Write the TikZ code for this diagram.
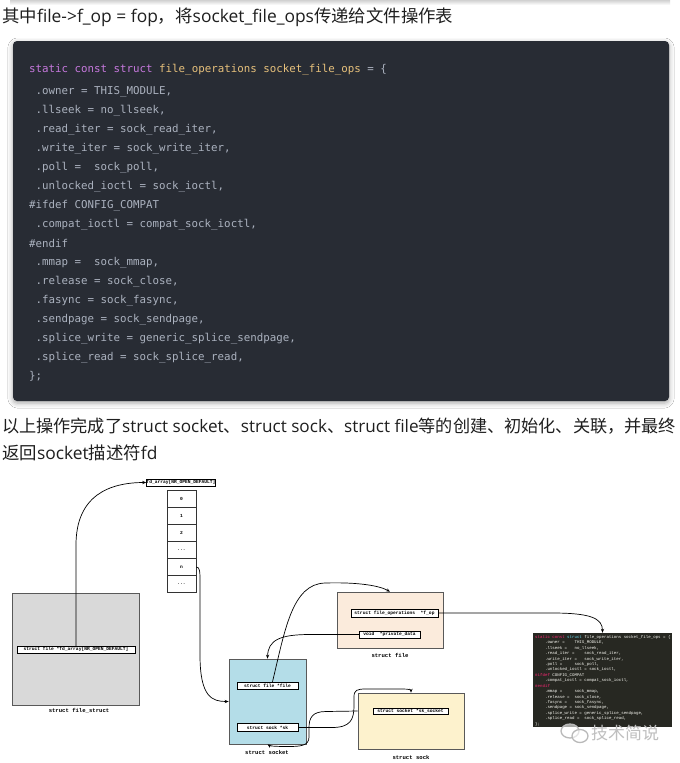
\documentclass[tikz,border=0pt]{standalone}
\usepackage{fontspec}
\newfontfamily\cjk{Noto Sans CJK SC}
\newfontfamily\latf{Open Sans}
\newfontfamily\codefont{DejaVu Sans Mono}
\newfontfamily\diagfont{Liberation Mono}
\usetikzlibrary{arrows.meta,shadows.blur,calc}
\definecolor{codebg}{HTML}{282C34}
\definecolor{codefg}{HTML}{ABB2BF}
\definecolor{kw}{HTML}{C678DD}
\definecolor{ty}{HTML}{E6C07B}
\definecolor{mbg}{HTML}{272822}
\definecolor{mfg}{HTML}{F8F8F2}
\definecolor{mred}{HTML}{F92672}
\definecolor{mblue}{HTML}{66D9EF}
\definecolor{fsfill}{HTML}{D9D9D9}
\definecolor{skfill}{HTML}{B4DDE8}
\definecolor{flfill}{HTML}{FBEBDC}
\definecolor{sofill}{HTML}{FDF2CD}
\begin{document}
\begin{tikzpicture}[x=1pt,y=-1pt,
  para/.style={anchor=west, inner sep=0pt, font=\cjk\fontsize{17.4}{19}\selectfont, text=black!88},
  codeline/.style={anchor=west, inner sep=0pt, font=\codefont\fontsize{10.8}{12}\selectfont, text=codefg},
  bigbox/.style={draw=black!65, line width=0.6pt, inner sep=0pt},
  inbox/.style={draw=black, line width=0.5pt, fill=white, inner sep=0pt, font=\diagfont\bfseries\fontsize{4.6}{5}\selectfont},
  cell/.style={draw=black!80, line width=0.5pt, fill=white, inner sep=0pt, minimum width=29pt, minimum height=17.1pt, font=\diagfont\bfseries\fontsize{4.6}{5}\selectfont},
  capt/.style={inner sep=0pt, font=\diagfont\bfseries\fontsize{5.6}{6}\selectfont},
  mline/.style={anchor=west, inner sep=0pt, font=\diagfont\fontsize{4.1}{4.5}\selectfont, text=mfg},
  arr/.style={draw=black, line width=0.7pt, -{Stealth[length=4pt,width=3.2pt]}}
]
\useasboundingbox (0,0) rectangle (680,763);
\fill[white] (0,0) rectangle (680,763);

% shadow of previous block
\shade[top color=black!18, bottom color=white] (10,0) rectangle (670,5);

% first paragraph
\node[para] (t1) at (2,17) {其中{\latf file->f\_op = fop}，将{\latf socket\_file\_ops}传递给文件操作表};

% code block
\node[fill=codebg, rounded corners=4pt, minimum width=656pt, minimum height=360pt, inner sep=0pt,
  blur shadow={shadow xshift=0pt, shadow yshift=-2pt, shadow blur radius=5pt, shadow opacity=35}] (cb) at (341,221) {};
\node[codeline] (c1) at (29,69.3) {{\color{kw}static const struct} {\color{ty}file\_operations socket\_file\_ops} = \{};
\node[codeline] (c2) at (29,91.7) {~.owner = THIS\_MODULE,};
\node[codeline] (c3) at (29,110.7) {~.llseek = no\_llseek,};
\node[codeline] (c4) at (29,129.3) {~.read\_iter = sock\_read\_iter,};
\node[codeline] (c5) at (29,148.3) {~.write\_iter = sock\_write\_iter,};
\node[codeline] (c6) at (29,167.3) {~.poll =~~sock\_poll,};
\node[codeline] (c7) at (29,186.3) {~.unlocked\_ioctl = sock\_ioctl,};
\node[codeline] (c8) at (29,205.3) {\#ifdef CONFIG\_COMPAT};
\node[codeline] (c9) at (29,224.3) {~.compat\_ioctl = compat\_sock\_ioctl,};
\node[codeline] (c10) at (29,243.3) {\#endif};
\node[codeline] (c11) at (29,262.3) {~.mmap =~~sock\_mmap,};
\node[codeline] (c12) at (29,281.3) {~.release = sock\_close,};
\node[codeline] (c13) at (29,300.3) {~.fasync = sock\_fasync,};
\node[codeline] (c14) at (29,319.3) {~.sendpage = sock\_sendpage,};
\node[codeline] (c15) at (29,338.3) {~.splice\_write = generic\_splice\_sendpage,};
\node[codeline] (c16) at (29,357.3) {~.splice\_read = sock\_splice\_read,};
\node[codeline] (c17) at (29,376.3) {\};};

% second paragraph
\node[para, font=\cjk\fontsize{17.15}{19}\selectfont] (t2) at (2,426) {以上操作完成了{\latf struct socket}、{\latf struct sock}、{\latf struct file}等的创建、初始化、关联，并最终};
\node[para] (t3) at (2,453) {返回{\latf socket}描述符{\latf fd}};

% ===== diagram =====
\node[bigbox, fill=fsfill, minimum width=127pt, minimum height=112pt] (fs) at (75.5,649) {};
\node[bigbox, fill=skfill, minimum width=77pt, minimum height=85pt] (socket) at (267.5,701.5) {};
\node[bigbox, fill=flfill, minimum width=106pt, minimum height=56pt] (file) at (390,620) {};
\node[bigbox, fill=sofill, minimum width=106pt, minimum height=56pt] (sock) at (411,721) {};
\node[fill=mbg, minimum width=139pt, minimum height=94pt, inner sep=0pt] (code) at (602.5,680) {};

\node[capt] (lfs) at (79,711) {struct file\_struct};
\node[capt] (lsocket) at (267,752) {struct socket};
\node[capt] (lfile) at (390,655) {struct file};
\node[capt] (lsock) at (411,757) {struct sock};

% fd array
\node[inbox, minimum width=66pt, minimum height=7pt] (fdlabel) at (181,482.5) {fd\_array[NR\_OPEN\_DEFAULT]};
\node[cell] (a0) at (181.5,498.6) {0};
\node[cell] (a1) at (181.5,515.7) {1};
\node[cell] (a2) at (181.5,532.8) {2};
\node[cell] (a3) at (181.5,549.9) {...};
\node[cell] (an) at (181.5,567.0) {n};
\node[cell] (a5) at (181.5,584.1) {...};

% inner fields
\node[inbox, minimum width=118pt, minimum height=7pt] (fsinner) at (76,649.5) {struct file *fd\_array[NR\_OPEN\_DEFAULT]};
\node[inbox, minimum width=61pt, minimum height=7pt] (sockfile) at (267.5,685.5) {struct file *file};
\node[inbox, minimum width=61pt, minimum height=8pt] (socksk) at (267.5,727.5) {struct sock *sk};
\node[inbox, minimum width=87pt, minimum height=8pt] (fop) at (394.5,613) {struct file\_operations~~*f\_op};
\node[inbox, minimum width=61pt, minimum height=7pt] (priv) at (389.5,634.5) {void~~*private\_data};
\node[inbox, minimum width=75pt, minimum height=6.5pt] (sksock) at (410.5,711) {struct socket *sk\_socket};

% code image lines
\node[mline] (m1) at (535,637.3) {{\color{mred}static const} {\color{mblue}struct} file\_operations socket\_file\_ops = \{};
\node[mline] (m2) at (535,642.7) {~~~~.owner =~~~~THIS\_MODULE,};
\node[mline] (m3) at (535,648.1) {~~~~.llseek =~~~no\_llseek,};
\node[mline] (m4) at (535,653.6) {~~~~.read\_iter =~~~~sock\_read\_iter,};
\node[mline] (m5) at (535,659.0) {~~~~.write\_iter =~~~sock\_write\_iter,};
\node[mline] (m6) at (535,664.4) {~~~~.poll =~~~~~sock\_poll,};
\node[mline] (m7) at (535,669.8) {~~~~.unlocked\_ioctl = sock\_ioctl,};
\node[mline] (m8) at (535,675.2) {{\color{mred}\#ifdef} CONFIG\_COMPAT};
\node[mline] (m9) at (535,680.7) {~~~~.compat\_ioctl = compat\_sock\_ioctl,};
\node[mline] (m10) at (535,686.1) {{\color{mred}\#endif}};
\node[mline] (m11) at (535,691.5) {~~~~.mmap =~~~~~sock\_mmap,};
\node[mline] (m12) at (535,696.9) {~~~~.release =~~sock\_close,};
\node[mline] (m13) at (535,702.3) {~~~~.fasync =~~~sock\_fasync,};
\node[mline] (m14) at (535,707.8) {~~~~.sendpage = sock\_sendpage,};
\node[mline] (m15) at (535,713.2) {~~~~.splice\_write = generic\_splice\_sendpage,};
\node[mline] (m16) at (535,718.6) {~~~~.splice\_read =~~sock\_splice\_read,};
\node[mline] (m17) at (535,724.0) {\};};

% connectors
\draw[arr] (fsinner.north) -- (76,545) .. controls (76,495) and (110,482.5) .. (fdlabel.west);
\draw[arr] (an.east) .. controls (200,567) and (200,572) .. (200,582) -- (200,655)
   .. controls (200,697) and (212,701.5) .. (socket.west);
\draw[arr] ([xshift=5pt]sockfile.north) .. controls (285,630) and (292,584) .. (325,583)
   .. controls (360,582) and (380,586) .. (file.north);
\draw[arr] (priv.west) -- (310,634.5) .. controls (280,634.5) and (268,640) .. (socket.north);
\draw[arr] (socksk.east) -- (332,727.5) .. controls (350,727.5) and (354,720) .. (354,706)
   -- (354,697) .. controls (354,690) and (357,689) .. (366,689) -- (403,689)
   .. controls (409,689) and (411,690) .. (sock.north);
\coordinate (sks) at (sksock.west -| sock.west);
\draw[arr] (sks) -- (326,711.5) .. controls (312,711.5) and (309,718) .. (309,728) -- (309,737)
   .. controls (309,746) and (300,746.5) .. (288,746.5) .. controls (276,746.5) and (270,746) .. (socket.south);
\draw[arr] (fop.east) -- (552,613) .. controls (590,613) and (602.5,618) .. (code.north);

% watermark
\begin{scope}[gray!55, line width=1.3pt]
  \draw[fill=white, fill opacity=0.6] (570,731) ellipse (9pt and 7pt);
  \draw[fill=white, fill opacity=0.6] (580,736) ellipse (8pt and 6.5pt);
\end{scope}
\node[inner sep=0pt, anchor=west, font=\cjk\fontsize{17}{18}\selectfont, text=gray!50] (wm) at (591,733) {技术简说};
\end{tikzpicture}
\end{document}
